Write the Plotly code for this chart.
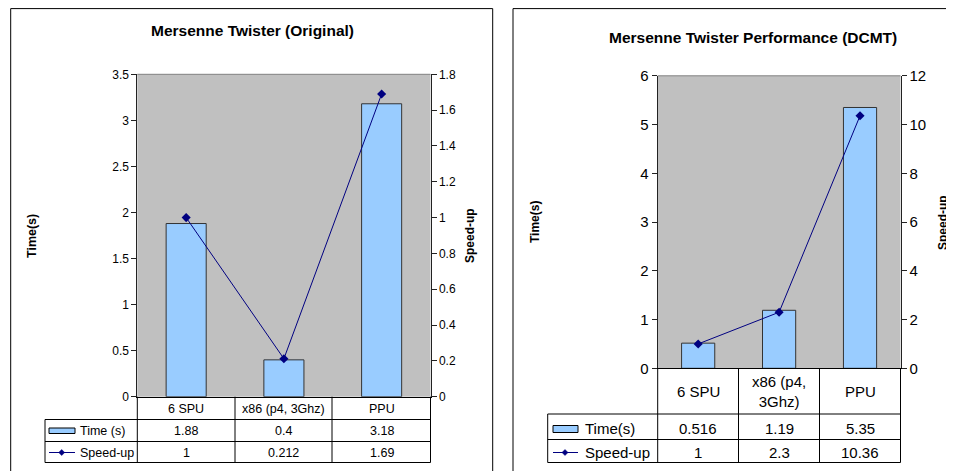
import plotly.graph_objects as go

W, H = 954, 471
OFF_X, OFF_Y = 8, 8  # page body margin in which the figure sits

# ---------------- data ----------------
categories = ["6 SPU", "x86 (p4, 3Ghz)", "PPU"]
cat_labels_left = ["6 SPU", "x86 (p4, 3Ghz)", "PPU"]
cat_labels_right = ["6 SPU", "x86 (p4,<br>3Ghz)", "PPU"]

time_orig = [1.88, 0.4, 3.18]
speedup_orig = [1, 0.212, 1.69]
time_orig_txt = ["1.88", "0.4", "3.18"]
speedup_orig_txt = ["1", "0.212", "1.69"]

time_dcmt = [0.516, 1.19, 5.35]
speedup_dcmt = [1, 2.3, 10.36]
time_dcmt_txt = ["0.516", "1.19", "5.35"]
speedup_dcmt_txt = ["1", "2.3", "10.36"]

title_left = "Mersenne Twister (Original)"
title_right = "Mersenne Twister Performance (DCMT)"

FONT = "Liberation Sans, Arial, sans-serif"
BAR_COLOR = "#99CCFF"
LINE_COLOR = "#000080"


def px(x):
    return (x - OFF_X) / W


def py(y):
    return 1 - (y - OFF_Y) / H


fig = go.Figure()

fig.add_trace(go.Bar(x=categories, y=time_orig, xaxis="x", yaxis="y", width=0.41,
                     marker=dict(color=BAR_COLOR, line=dict(color="#333333", width=1)),
                     showlegend=False))
fig.add_trace(go.Scatter(x=categories, y=speedup_orig, xaxis="x", yaxis="y2", mode="lines+markers",
                         line=dict(color=LINE_COLOR, width=1),
                         marker=dict(symbol="diamond", size=7, color=LINE_COLOR),
                         showlegend=False))
fig.add_trace(go.Bar(x=categories, y=time_dcmt, xaxis="x2", yaxis="y3", width=0.41,
                     marker=dict(color=BAR_COLOR, line=dict(color="#333333", width=1)),
                     showlegend=False))
fig.add_trace(go.Scatter(x=categories, y=speedup_dcmt, xaxis="x2", yaxis="y4", mode="lines+markers",
                         line=dict(color=LINE_COLOR, width=1),
                         marker=dict(symbol="diamond", size=7, color=LINE_COLOR),
                         showlegend=False))

L = dict(x0=137.3, x1=430.5, y0=74.3, y1=396.7)
R = dict(x0=657.7, x1=900.5, y0=75.8, y1=368.3)

axis_common = dict(showgrid=False, zeroline=False, ticks="outside", ticklen=5, automargin=False,
                   tickcolor="#222222", showline=True, linecolor="#222222", linewidth=1)
xaxis_common = dict(showticklabels=False, showgrid=False, zeroline=False, showline=True,
                    linecolor="#000000", ticks="", automargin=False)

fig.update_layout(
    template="none",
    width=W, height=H, autosize=False, margin=dict(l=0, r=0, t=0, b=0, pad=0),
    paper_bgcolor="white", plot_bgcolor="#C0C0C0",
    font=dict(family=FONT, color="black"),
    xaxis=dict(domain=[px(L["x0"]), px(L["x1"])], anchor="y", **xaxis_common),
    yaxis=dict(domain=[py(L["y1"]), py(L["y0"])], anchor="x", range=[0, 3.5], dtick=0.5,
               tickfont=dict(size=12), **axis_common),
    yaxis2=dict(overlaying="y", side="right", anchor="x", range=[0, 1.8], dtick=0.2,
                tickformat="~g", tickfont=dict(size=12), **axis_common),
    xaxis2=dict(domain=[px(R["x0"]), px(R["x1"])], anchor="y3", **xaxis_common),
    yaxis3=dict(domain=[py(R["y1"]), py(R["y0"])], anchor="x2", range=[0, 6], dtick=1,
                tickfont=dict(size=15), **axis_common),
    yaxis4=dict(overlaying="y3", side="right", anchor="x2", range=[0, 12], dtick=2,
                tickfont=dict(size=15), **axis_common),
)

shapes = []
annotations = []


def line(x0, y0, x1, y1, color="#000000", width=1):
    shapes.append(dict(type="line", xref="paper", yref="paper",
                       x0=px(x0), y0=py(y0), x1=px(x1), y1=py(y1),
                       line=dict(color=color, width=width)))


def text(x, y, s, size, bold=False, angle=0, xanchor="center", xref="paper"):
    annotations.append(dict(x=x if xref != "paper" else px(x), y=py(y), xref=xref, yref="paper",
                            text=f"<b>{s}</b>" if bold else s, showarrow=False,
                            font=dict(size=size, family=FONT, color="black"),
                            textangle=angle, xanchor=xanchor, yanchor="middle"))


# panel borders
TOP = 8.6
line(10.7, TOP, 10.7, 480)
line(10.7, TOP, 492.7, TOP)
line(492.7, TOP, 492.7, 480)
line(513, TOP, 513, 480)
line(513, TOP, 965, TOP)

line(L["x0"], L["y0"], L["x1"], L["y0"], color="#808080")
line(R["x0"], R["y0"], R["x1"], R["y0"], color="#808080")

text(252, 31, title_left, 15.5, bold=True)
text(753, 38, title_right, 15.5, bold=True)

text(32, 236, "Time(s)", 12.5, bold=True, angle=-90)
text(470, 236, "Speed-up", 12, bold=True, angle=-90)
text(535, 222, "Time(s)", 12, bold=True, angle=-90)
text(943, 223, "Speed-up", 12, bold=True, angle=-90)

# left data table
lcols = [137.3, 235, 332, 430.5]
ltab_left = 45
lrows = [396.7, 419.5, 441.5, 462.5]
for c in lcols:
    line(c, lrows[0], c, lrows[3])
line(ltab_left, lrows[1], lcols[3], lrows[1])
line(ltab_left, lrows[2], lcols[3], lrows[2])
line(ltab_left, lrows[3], lcols[3], lrows[3])
line(ltab_left, lrows[1], ltab_left, lrows[3])
for i, c in enumerate(categories):
    text(c, 408.5, cat_labels_left[i], 12.5, xref="x")
    text(c, 431, time_orig_txt[i], 12.5, xref="x")
    text(c, 452.5, speedup_orig_txt[i], 12.5, xref="x")
shapes.append(dict(type="rect", xref="paper", yref="paper", x0=px(49), x1=px(75),
                   y0=py(433.5), y1=py(428), fillcolor=BAR_COLOR, line=dict(color="#000000", width=1)))
text(78, 431, "Time (s)", 12.5, xanchor="left")
line(49, 452.5, 75, 452.5, color=LINE_COLOR)
shapes.append(dict(type="path", xref="paper", yref="paper",
                   path=f"M {px(61.7)},{py(449.5)} L {px(64.7)},{py(452.5)} L {px(61.7)},{py(455.5)} L {px(58.7)},{py(452.5)} Z",
                   fillcolor=LINE_COLOR, line=dict(color=LINE_COLOR, width=0.5)))
text(78, 452.5, "Speed-up", 12.5, xanchor="left")

# right data table
rcols = [657.7, 738.5, 819.5, 900.5]
rtab_left = 547.7
rrows = [368.3, 414, 439.5, 462.5]
for c in rcols:
    line(c, rrows[0], c, rrows[3])
line(rtab_left, rrows[1], rcols[3], rrows[1])
line(rtab_left, rrows[2], rcols[3], rrows[2])
line(rtab_left, rrows[3], rcols[3], rrows[3])
line(rtab_left, rrows[1], rtab_left, rrows[3])
for i, c in enumerate(categories):
    text(c, 391.5, cat_labels_right[i], 15, xref="x2")
    text(c, 428.5, time_dcmt_txt[i], 15, xref="x2")
    text(c, 452, speedup_dcmt_txt[i], 15, xref="x2")
shapes.append(dict(type="rect", xref="paper", yref="paper", x0=px(553), x1=px(578),
                   y0=py(432.5), y1=py(425.5), fillcolor=BAR_COLOR, line=dict(color="#000000", width=1)))
text(583, 428.5, "Time(s)", 15, xanchor="left")
line(553, 452.5, 578, 452.5, color=LINE_COLOR)
shapes.append(dict(type="path", xref="paper", yref="paper",
                   path=f"M {px(565)},{py(449.5)} L {px(568)},{py(452.5)} L {px(565)},{py(455.5)} L {px(562)},{py(452.5)} Z",
                   fillcolor=LINE_COLOR, line=dict(color=LINE_COLOR, width=0.5)))
text(583, 452, "Speed-up", 15, xanchor="left")

fig.update_layout(shapes=shapes, annotations=annotations)

fig.write_html("out.html")
